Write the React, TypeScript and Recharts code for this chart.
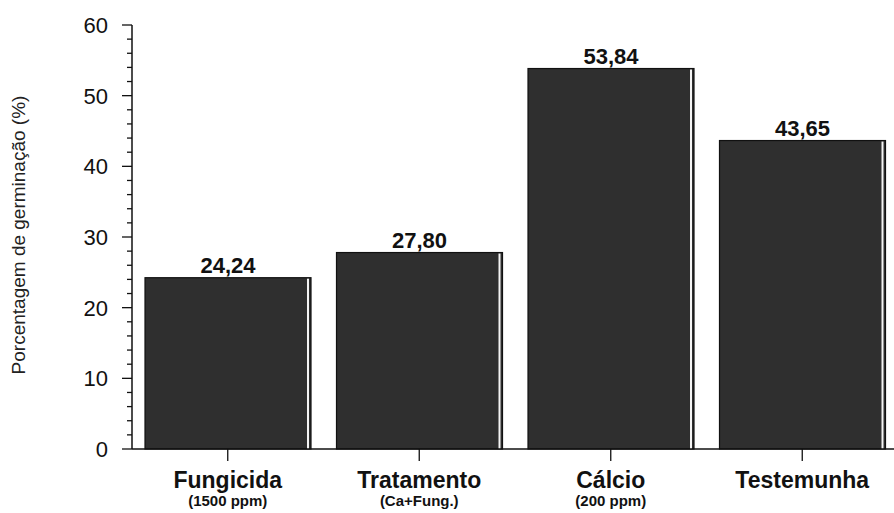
import { BarChart, Bar, XAxis, YAxis, LabelList } from 'recharts'

const categories = ['Fungicida', 'Tratamento', 'Cálcio', 'Testemunha']
const subLabels = ['(1500 ppm)', '(Ca+Fung.)', '(200 ppm)', '']
const germination = [24.24, 27.8, 53.84, 43.65]
const valueLabels = ['24,24', '27,80', '53,84', '43,65']
const yTicks = [0, 2, 4, 6, 8, 10, 12, 14, 16, 18, 20, 22, 24, 26, 28, 30, 32, 34, 36, 38, 40, 42, 44, 46, 48, 50, 52, 54, 56, 58, 60]

const data = categories.map((name, i) => ({
  name, sub: subLabels[i], value: germination[i], label: valueLabels[i],
}))

const FONT = 'Arial, "Liberation Sans", Helvetica, sans-serif'

function BarShape(props: any) {
  const { x, y, width, height } = props
  return (
    <g>
      <rect x={x} y={y} width={width} height={height} fill="#2f2f2f" stroke="#111" strokeWidth={1.2} />
      <rect x={x + width - 4} y={y + 1} width={2} height={height - 1} fill="#f4f4f4" />
    </g>
  )
}

function YTick({ x, y, payload }: any) {
  const v = payload.value
  const major = v % 10 === 0
  return (
    <g>
      <line x1={major ? x : x + 5} x2={x + 10} y1={y} y2={y} stroke="#111" strokeWidth={1.3} />
      {major && (
        <text x={x - 14} y={y} dy={8} textAnchor="end" fontSize={22} fontFamily={FONT} fill="#111">{v}</text>
      )}
    </g>
  )
}

function XTick({ x, y, payload, index }: any) {
  const d = data[index]
  return (
    <g>
      <text x={x} y={y + 27} textAnchor="middle" fontSize={23} fontWeight={700} fontFamily={FONT} fill="#111">{payload.value}</text>
      {d && d.sub && (
        <text x={x} y={y + 45} textAnchor="middle" fontSize={15} fontWeight={700} fontFamily={FONT} fill="#111">{d.sub}</text>
      )}
    </g>
  )
}

function YLabel({ viewBox }: any) {
  const cy = viewBox.y + viewBox.height / 2 - 2
  return (
    <text x={25} y={cy} transform={`rotate(-90, 25, ${cy})`} textAnchor="middle" fontSize={19} fontFamily={FONT} fill="#222">
      Porcentagem de germinação (%)
    </text>
  )
}

export default function App() {
  return (
    <div style={{ position: 'absolute', left: 0, top: 0, width: 894, height: 513, overflow: 'hidden', background: '#fff' }}>
      <BarChart width={898} height={513} data={data} margin={{ top: 25, right: 0, bottom: 0, left: 0 }} barCategoryGap={13}>
        <XAxis xAxisId="top" orientation="top" dataKey="name" height={0} tick={false} tickLine={false} axisLine={{ stroke: '#111', strokeWidth: 1.5 }} />
        <XAxis dataKey="name" height={64} tickSize={12} tickMargin={0} tick={<XTick />} tickLine={{ stroke: '#111', strokeWidth: 1.3 }} axisLine={{ stroke: '#111', strokeWidth: 1.5 }} interval={0} />
        <YAxis width={132} domain={[0, 60]} ticks={yTicks} interval={0} tickSize={10} tickMargin={0} tickLine={false} tick={<YTick />} axisLine={{ stroke: '#111', strokeWidth: 1.5 }} label={<YLabel />} />
        <Bar dataKey="value" shape={<BarShape />} isAnimationActive={false}>
          <LabelList dataKey="label" position="top" offset={5} fontSize={22} fontWeight={700} fontFamily={FONT} fill="#111" />
        </Bar>
      </BarChart>
    </div>
  )
}
